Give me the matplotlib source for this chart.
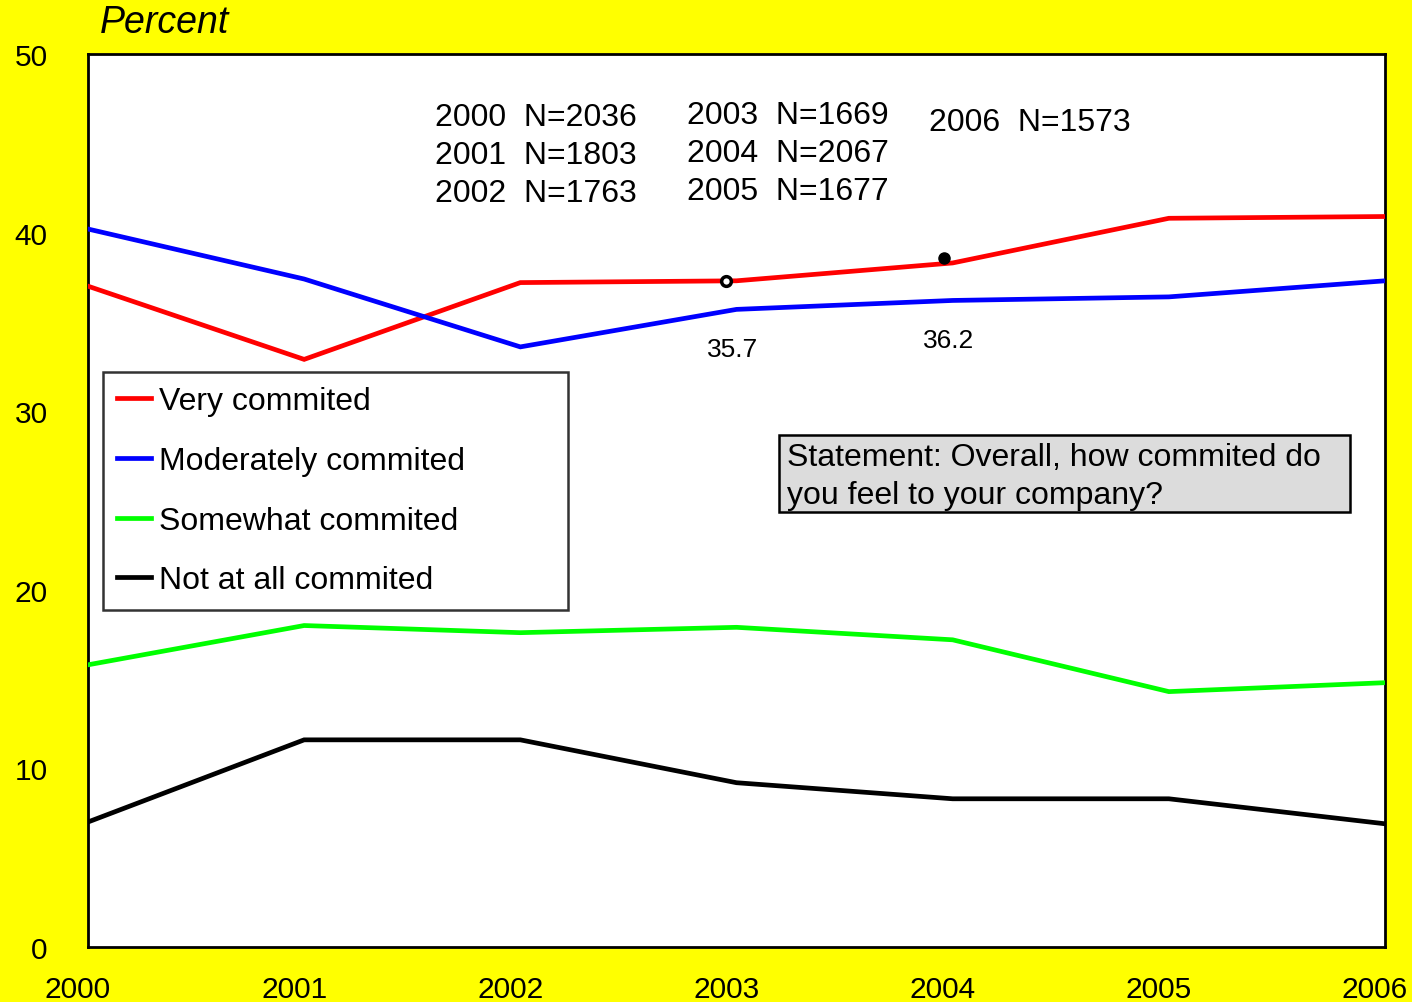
import matplotlib
matplotlib.use("Agg")
import matplotlib.pyplot as plt
from matplotlib.patches import Rectangle
from matplotlib.transforms import ScaledTranslation

plt.rcParams['font.family'] = ['Liberation Sans', 'DejaVu Sans']

years = [2000, 2001, 2002, 2003, 2004, 2005, 2006]
very = [37.0, 32.9, 37.2, 37.3, 38.3, 40.8, 40.9]
moderately = [40.2, 37.4, 33.6, 35.7, 36.2, 36.4, 37.3]
somewhat = [15.8, 18.0, 17.6, 17.9, 17.2, 14.3, 14.8]
not_at_all = [7.0, 11.6, 11.6, 9.2, 8.3, 8.3, 6.9]

series_names = ["Very commited", "Moderately commited", "Somewhat commited", "Not at all commited"]
series_colors = ["#ff0000", "#0000ff", "#00ff00", "#000000"]

sample_sizes = [("2000", "2036"), ("2001", "1803"), ("2002", "1763"),
                ("2003", "1669"), ("2004", "2067"), ("2005", "1677"),
                ("2006", "1573")]

# small point marks on the red line
dot_x = [2002.95, 2003.96]
dot_y = [37.3, 38.6]

value_label_years = [2003, 2004]

statement = "Statement: Overall, how commited do\nyou feel to your company?"

fig = plt.figure(figsize=(14.12, 10.03), dpi=100, facecolor="#ffff00")
ax = fig.add_axes([0.0623, 0.0548, 0.9186, 0.8904])
ax.set_facecolor("white")

for vals, name, col in zip([very, moderately, somewhat, not_at_all], series_names, series_colors):
    ax.plot(years, vals, color=col, lw=3.4, label=name, solid_joinstyle="miter", zorder=3)

ax.plot(dot_x[:1], dot_y[:1], "o", ms=7, mfc="white", mec="black", mew=2.5, zorder=4)
ax.plot(dot_x[1:], dot_y[1:], "o", ms=8, color="black", zorder=4)

for yr in value_label_years:
    v = moderately[years.index(yr)]
    ax.text(yr - 0.02, v - 2.2, f"{v:.1f}", ha="center", va="center", fontsize=19)

ax.set_xlim(2000, 2006)
ax.set_ylim(0, 50)
ax.set_xticks(years)
ax.set_yticks([0, 10, 20, 30, 40, 50])
ax.tick_params(axis="both", length=0, labelsize=21.5)
ax.tick_params(axis="y", pad=29)
ax.tick_params(axis="x", pad=20)
shift = ScaledTranslation(-10 / 100, 0, fig.dpi_scale_trans)
for lbl in ax.get_xticklabels():
    lbl.set_transform(lbl.get_transform() + shift)
for sp in ax.spines.values():
    sp.set_linewidth(2)
    sp.set_color("black")

fig.text(0.0708, 0.977, "Percent", fontsize=27, style="italic", ha="left", va="center")

# sample sizes per year
cols = [(0.2675, [0.9295, 0.8865, 0.8445]), (0.462, [0.9315, 0.8895, 0.8465]), (0.6485, [0.9235])]
idx = 0
for x0, ys in cols:
    for y0 in ys:
        yr, n = sample_sizes[idx]
        ax.text(x0, y0, f"{yr}  N={n}", transform=ax.transAxes, fontsize=23, ha="left", va="center")
        idx += 1

leg = ax.legend(loc="upper left", bbox_to_anchor=(0.0116, 0.644, 0.3585, 0.0), mode="expand",
                fontsize=23, frameon=True, fancybox=False, edgecolor="black",
                handlelength=1.05, handletextpad=0.25, labelspacing=0.93, borderpad=0.45,
                borderaxespad=0)
leg.get_frame().set_linewidth(1.8)
for h in leg.get_lines():
    h.set_linewidth(3.4)

ax.add_patch(Rectangle((0.5328, 0.487), 0.4405, 0.0865, transform=ax.transAxes,
                       facecolor="#dcdcdc", edgecolor="black", lw=1.8, zorder=5))
ax.text(0.5388, 0.5275, statement, transform=ax.transAxes, fontsize=23, ha="left", va="center",
        linespacing=1.38, zorder=6)

fig.savefig("out.png", dpi=100, facecolor=fig.get_facecolor())
